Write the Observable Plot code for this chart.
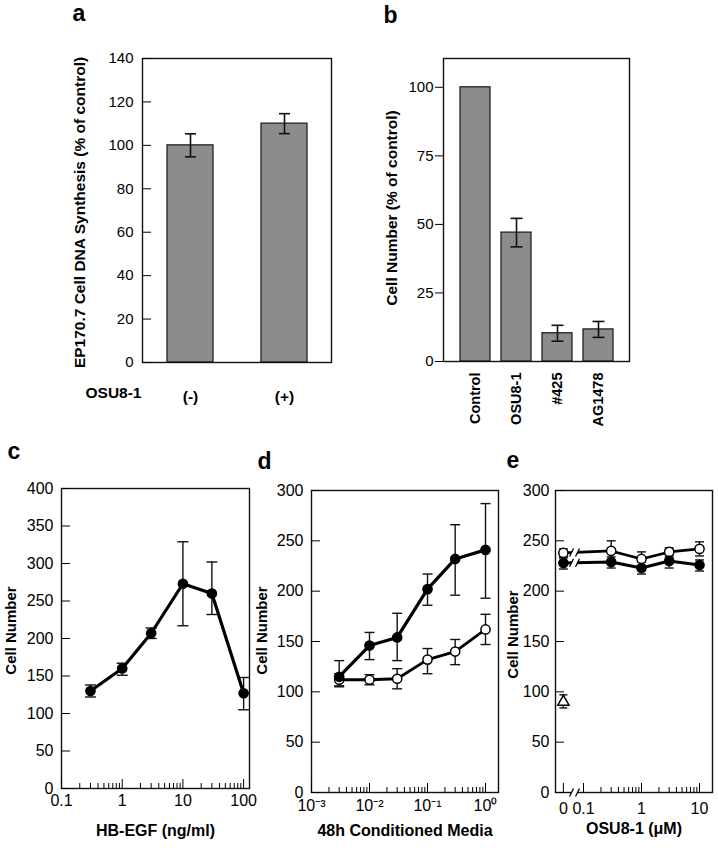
<!DOCTYPE html>
<html><head><meta charset="utf-8">
<script src="https://cdn.jsdelivr.net/npm/d3@7"></script>
<script src="https://cdn.jsdelivr.net/npm/@observablehq/plot@0.6"></script>
<style>
body{margin:0;background:#fff;}
#fig{position:relative;width:718px;height:853px;overflow:hidden;background:#fff;}
</style></head><body><div id="fig"></div>
<script>
// ---------- data ----------
const aCategories = ["(-)", "(+)"];
const aValues = [100, 110];
const aErrors = [5.3, 4.6];
const aTicks = [0, 20, 40, 60, 80, 100, 120, 140];
const aTitle = "EP170.7 Cell DNA Synthesis (% of control)";
const aXName = "OSU8-1";

const bCategories = ["Control", "OSU8-1", "#425", "AG1478"];
const bValues = [100, 47, 10.3, 11.7];
const bErrors = [0, 5.2, 2.9, 2.9];
const bTicks = [0, 25, 50, 75, 100];
const bTitle = "Cell Number (% of control)";

const cDose = [0.3, 1, 3, 10, 30, 100];
const cValues = [130, 160, 207, 273, 260, 127];
const cLow = [122, 151, 200, 217, 232, 105];
const cHigh = [138, 167, 214, 329, 302, 148];
const cTicks = [0, 50, 100, 150, 200, 250, 300, 350, 400];
const cMajor = [0.1, 1, 10, 100];
const cMajorLabels = ["0.1", "1", "10", "100"];
const cXTitle = "HB-EGF (ng/ml)";

const dDose = [0.003, 0.01, 0.03, 0.1, 0.3, 1];
const dFilled = [115, 146, 154, 202, 232, 241];
const dFilledLow = [105, 132, 131, 186, 196, 193];
const dFilledHigh = [131, 159, 178, 217, 266, 287];
const dOpen = [112, 112, 113, 132, 140, 162];
const dOpenLow = [106, 107, 103, 118, 127, 147];
const dOpenHigh = [118, 117, 123, 143, 152, 177];
const dTicks = [0, 50, 100, 150, 200, 250, 300];
const dMajor = [0.001, 0.01, 0.1, 1];
const dMajorLabels = ["10\u207B\u00B3", "10\u207B\u00B2", "10\u207B\u00B9", "10\u2070"];
const dXTitle = "48h Conditioned Media";

const eDose = [0, 0.3, 1, 3, 10];
const eOpen = [238, 240, 232, 239, 242];
const eOpenLow = [233, 231, 225, 234, 235];
const eOpenHigh = [242, 250, 239, 243, 249];
const eFilled = [228, 229, 223, 230, 226];
const eFilledLow = [222, 223, 217, 223, 220];
const eFilledHigh = [234, 234, 229, 236, 231];
const eTriangleDose = [0];
const eTriangle = [90];
const eTriangleLow = [84];
const eTriangleHigh = [97];
const eTicks = [0, 50, 100, 150, 200, 250, 300];
const eMajor = [0, 0.1, 1, 10];
const eMajorLabels = ["0", "0.1", "1", "10"];
const eXTitle = "OSU8-1 (\u03BCM)";
const yTitle = "Cell Number";

// ---------- helpers ----------
const FONT = '"Liberation Sans", Arial, Helvetica, sans-serif';
const fig = document.getElementById("fig");
function put(svg, left, top) {
  svg.style.position = "absolute";
  svg.style.left = left + "px";
  svg.style.top = top + "px";
  fig.appendChild(svg);
}
const style15 = {fontFamily: FONT, fontSize: "15px", background: "transparent", overflow: "visible", color: "black"};
const style16 = {...style15, fontSize: "16px"};
const capSymbol = {draw(ctx, size) { const s = Math.sqrt(size / Math.PI); ctx.moveTo(-s, 0); ctx.lineTo(s, 0); }};
const gapSymbol = {draw(ctx, size) { const k = Math.sqrt(size / Math.PI) / 4;
  ctx.moveTo(-5 * k, 4 * k); ctx.lineTo(-1 * k, -4 * k); ctx.lineTo(5 * k, -4 * k); ctx.lineTo(1 * k, 4 * k); ctx.closePath(); }};
const slashSymbol = {draw(ctx, size) { const k = Math.sqrt(size / Math.PI) / 4;
  ctx.moveTo(-5 * k, 4 * k); ctx.lineTo(-1 * k, -4 * k); ctx.moveTo(1 * k, 4 * k); ctx.lineTo(5 * k, -4 * k); }};
const BAR = "#8c8c8c";
function minorTicks(decades) { const out = []; for (const d of decades) for (let m = 2; m <= 9; m++) out.push(+(d * m).toPrecision(3)); return out; }
const lab = (ticks, labels) => v => labels[ticks.indexOf(v)] ?? "";
const title = (t, o) => Plot.text([t], {text: d => d, fontWeight: "bold", fontSize: 14, ...o});
const vtitle = (t, o) => title(t, {frameAnchor: "left", rotate: -90, textAnchor: "middle", lineAnchor: "middle", ...o});

// ---------- panel a ----------
const aTable = aCategories.map((c, i) => ({c, v: aValues[i], lo: aValues[i] - aErrors[i], hi: aValues[i] + aErrors[i]}));
put(Plot.plot({
  width: 360, height: 420, marginLeft: 142, marginRight: 29, marginTop: 58, marginBottom: 58,
  style: style15,
  x: {type: "band", domain: aCategories, paddingInner: 0.513, paddingOuter: 0.2565, axis: null},
  y: {domain: [0, 140], axis: null},
  marks: [
    Plot.barY(aTable, {x: "c", y: "v", fill: BAR, stroke: "#222", strokeWidth: 1.3}),
    Plot.ruleX(aTable, {x: "c", y1: "lo", y2: "hi", stroke: "#111", strokeWidth: 1.6}),
    Plot.dot(aTable, {x: "c", y: "hi", symbol: capSymbol, r: 5.5, fill: "none", stroke: "#111", strokeWidth: 1.6}),
    Plot.dot(aTable, {x: "c", y: "lo", symbol: capSymbol, r: 5.5, fill: "none", stroke: "#111", strokeWidth: 1.6}),
    Plot.frame({stroke: "#111", strokeWidth: 1.4}),
    Plot.axisY({ticks: aTicks, tickSize: 0, tickPadding: 9, label: null}),
    Plot.axisY({ticks: aTicks, tickSize: -9, tickFormat: () => "", label: null}),
    Plot.axisX({tickSize: 0, tickPadding: 28, fontWeight: "bold", fontSize: 15.5, label: null}),
    title(aXName, {frameAnchor: "bottom-left", dx: -1, dy: 35, textAnchor: "end", fontSize: 15.5}),
    vtitle(aTitle, {dx: -62, dy: 2, fontSize: 15.5}),
    title("a", {frameAnchor: "top-left", dx: -70, dy: -38, textAnchor: "start", lineAnchor: "bottom", fontSize: 23})
  ]
}), 0, 0);

// ---------- panel b ----------
const bTable = bCategories.map((c, i) => ({c, v: bValues[i], e: bErrors[i], lo: bValues[i] - bErrors[i], hi: bValues[i] + bErrors[i]}));
const bErr = bTable.filter(d => d.e > 0);
put(Plot.plot({
  width: 358, height: 420, marginLeft: 83, marginRight: 89, marginTop: 58, marginBottom: 59,
  style: style15,
  x: {type: "band", domain: bCategories, paddingInner: 0.277, paddingOuter: 0.38, axis: null},
  y: {domain: [0, 110.5], axis: null},
  marks: [
    Plot.barY(bTable, {x: "c", y: "v", fill: BAR, stroke: "#222", strokeWidth: 1.3}),
    Plot.ruleX(bErr, {x: "c", y1: "lo", y2: "hi", stroke: "#111", strokeWidth: 1.6}),
    Plot.dot(bErr, {x: "c", y: "hi", symbol: capSymbol, r: 6, fill: "none", stroke: "#111", strokeWidth: 1.6}),
    Plot.dot(bErr, {x: "c", y: "lo", symbol: capSymbol, r: 6, fill: "none", stroke: "#111", strokeWidth: 1.6}),
    Plot.frame({stroke: "#111", strokeWidth: 1.4}),
    Plot.axisY({ticks: bTicks, tickSize: 8, tickPadding: 2, label: null}),
    Plot.axisX({tickSize: 0, tickPadding: 11, tickRotate: -90, fontWeight: "bold", fontSize: 14.5, label: null}),
    vtitle(bTitle, {dx: -51, dy: -2, fontSize: 15.5}),
    title("b", {frameAnchor: "top-left", dx: -60, dy: -36, textAnchor: "start", lineAnchor: "bottom", fontSize: 23})
  ]
}), 360, 0);

// ---------- panel c ----------
const cTable = cDose.map((x, i) => ({x, v: cValues[i], lo: cLow[i], hi: cHigh[i]}));
put(Plot.plot({
  width: 250, height: 433, marginLeft: 61, marginRight: 1, marginTop: 68, marginBottom: 65,
  style: style16,
  x: {type: "log", domain: [0.1, 125], axis: null},
  y: {domain: [0, 400], axis: null},
  marks: [
    Plot.ruleX(cTable, {x: "x", y1: "lo", y2: "hi", stroke: "#111", strokeWidth: 1.4}),
    Plot.dot(cTable, {x: "x", y: "hi", symbol: capSymbol, r: 5.5, fill: "none", stroke: "#111", strokeWidth: 1.4}),
    Plot.dot(cTable, {x: "x", y: "lo", symbol: capSymbol, r: 5.5, fill: "none", stroke: "#111", strokeWidth: 1.4}),
    Plot.line(cTable, {x: "x", y: "v", stroke: "#000", strokeWidth: 3.2}),
    Plot.dot(cTable, {x: "x", y: "v", r: 4.6, fill: "#000", stroke: "#000"}),
    Plot.frame({stroke: "#111", strokeWidth: 1.4}),
    Plot.axisY({ticks: cTicks, tickSize: 0, tickPadding: 8, label: null}),
    Plot.axisY({ticks: cTicks, tickSize: -9, tickFormat: () => "", label: null}),
    Plot.axisX({ticks: cMajor, tickSize: 0, tickPadding: 6, tickFormat: lab(cMajor, cMajorLabels), label: null}),
    Plot.axisX({ticks: cMajor, tickSize: -9, tickFormat: () => "", label: null}),
    Plot.axisX({ticks: minorTicks([0.1, 1, 10]), tickSize: -5, tickFormat: () => "", label: null}),
    vtitle(yTitle, {dx: -50, dy: -8, fontSize: 15}),
    title(cXTitle, {frameAnchor: "bottom", dy: 47, fontSize: 16}),
    title("c", {frameAnchor: "top-left", dx: -54, dy: -30, textAnchor: "start", lineAnchor: "bottom", fontSize: 23})
  ]
}), 0, 420);

// ---------- panel d ----------
const dF = dDose.map((x, i) => ({x, v: dFilled[i], lo: dFilledLow[i], hi: dFilledHigh[i]}));
const dO = dDose.map((x, i) => ({x, v: dOpen[i], lo: dOpenLow[i], hi: dOpenHigh[i]}));
const errMarks = (t, r, w) => [
  Plot.ruleX(t, {x: "x", y1: "lo", y2: "hi", stroke: "#111", strokeWidth: w}),
  Plot.dot(t, {x: "x", y: "hi", symbol: capSymbol, r, fill: "none", stroke: "#111", strokeWidth: w}),
  Plot.dot(t, {x: "x", y: "lo", symbol: capSymbol, r, fill: "none", stroke: "#111", strokeWidth: w})
];
put(Plot.plot({
  width: 250, height: 433, marginLeft: 61, marginRight: 2, marginTop: 70, marginBottom: 61,
  style: style16,
  x: {type: "log", domain: [0.001, 1.675], axis: null},
  y: {domain: [0, 300], axis: null},
  marks: [
    ...errMarks(dO, 5, 1.4),
    ...errMarks(dF, 5, 1.4),
    Plot.line(dO, {x: "x", y: "v", stroke: "#000", strokeWidth: 2.8}),
    Plot.line(dF, {x: "x", y: "v", stroke: "#000", strokeWidth: 3.2}),
    Plot.dot(dO, {x: "x", y: "v", r: 4.6, fill: "#fff", stroke: "#000", strokeWidth: 1.5}),
    Plot.dot(dF, {x: "x", y: "v", r: 4.6, fill: "#000", stroke: "#000"}),
    Plot.frame({stroke: "#111", strokeWidth: 1.4}),
    Plot.axisY({ticks: dTicks, tickSize: 0, tickPadding: 8, label: null}),
    Plot.axisY({ticks: dTicks, tickSize: -9, tickFormat: () => "", label: null}),
    Plot.axisX({ticks: dMajor, tickSize: 0, tickPadding: 7, tickFormat: lab(dMajor, dMajorLabels), label: null}),
    Plot.axisX({ticks: dMajor, tickSize: -9, tickFormat: () => "", label: null}),
    Plot.axisX({ticks: minorTicks([0.001, 0.01, 0.1]), tickSize: -5, tickFormat: () => "", label: null}),
    vtitle(yTitle, {dx: -49, dy: -11, fontSize: 15}),
    title(dXTitle, {frameAnchor: "bottom", dy: 43, fontSize: 16}),
    title("d", {frameAnchor: "top-left", dx: -54, dy: -22, textAnchor: "start", lineAnchor: "bottom", fontSize: 23})
  ]
}), 250, 420);

// ---------- panel e ----------
const eZeroPos = 0.045;   // plotted position of the "0" dose, left of the axis break
const eBreakPos = 0.07;   // position of the axis break
const ex = d => (d === 0 ? eZeroPos : d);
const eO = eDose.map((x, i) => ({x: ex(x), v: eOpen[i], lo: eOpenLow[i], hi: eOpenHigh[i]}));
const eF = eDose.map((x, i) => ({x: ex(x), v: eFilled[i], lo: eFilledLow[i], hi: eFilledHigh[i]}));
const eT = eTriangleDose.map((x, i) => ({x: ex(x), v: eTriangle[i], lo: eTriangleLow[i], hi: eTriangleHigh[i]}));
const tBreak = (Math.log(eBreakPos) - Math.log(eO[0].x)) / (Math.log(eO[1].x) - Math.log(eO[0].x));
const eBreaks = [eO, eF].map(s => ({x: eBreakPos, v: s[0].v + (s[1].v - s[0].v) * tBreak}));
const eAxisBreak = [{x: eBreakPos, v: 0}];
const eMinor = minorTicks([0.1, 1]);
const eTickPos = eMajor.map(ex);
put(Plot.plot({
  width: 218, height: 433, marginLeft: 55, marginRight: 6, marginTop: 70, marginBottom: 61,
  style: style16,
  x: {type: "log", domain: [0.0329, 16.75], axis: null},
  y: {domain: [0, 300], axis: null},
  marks: [
    ...errMarks(eO, 4.5, 1.4),
    ...errMarks(eF, 4.5, 1.4),
    ...errMarks(eT, 4, 1.4),
    Plot.line(eO, {x: "x", y: "v", stroke: "#000", strokeWidth: 2.6}),
    Plot.line(eF, {x: "x", y: "v", stroke: "#000", strokeWidth: 3}),
    Plot.dot(eBreaks, {x: "x", y: "v", symbol: gapSymbol, r: 4, fill: "#fff", stroke: "none"}),
    Plot.dot(eBreaks, {x: "x", y: "v", symbol: slashSymbol, r: 4, fill: "none", stroke: "#000", strokeWidth: 1.3}),
    Plot.dot(eO, {x: "x", y: "v", r: 4.6, fill: "#fff", stroke: "#000", strokeWidth: 1.5}),
    Plot.dot(eF, {x: "x", y: "v", r: 4.6, fill: "#000", stroke: "#000"}),
    Plot.dot(eT, {x: "x", y: "v", r: 4.2, symbol: "triangle", fill: "#fff", stroke: "#000", strokeWidth: 1.5}),
    Plot.frame({stroke: "#111", strokeWidth: 1.4}),
    Plot.dot(eAxisBreak, {x: "x", y: "v", symbol: gapSymbol, r: 4, fill: "#fff", stroke: "none"}),
    Plot.dot(eAxisBreak, {x: "x", y: "v", symbol: slashSymbol, r: 4, fill: "none", stroke: "#000", strokeWidth: 1.3}),
    Plot.axisY({ticks: eTicks, tickSize: 0, tickPadding: 6, label: null}),
    Plot.axisY({ticks: eTicks, tickSize: -9, tickFormat: () => "", label: null}),
    Plot.text(eTickPos, {x: d => d, text: lab(eTickPos, eMajorLabels), frameAnchor: "bottom", lineAnchor: "top", dy: 10}),
    Plot.axisX({ticks: eTickPos, tickSize: -9, tickFormat: () => "", label: null}),
    Plot.axisX({ticks: eMinor, tickSize: -5, tickFormat: () => "", label: null}),
    vtitle(yTitle, {dx: -42, dy: -7, fontSize: 15}),
    title(eXTitle, {frameAnchor: "bottom", dy: 41, fontSize: 16}),
    title("e", {frameAnchor: "top-left", dx: -49, dy: -23, textAnchor: "start", lineAnchor: "bottom", fontSize: 23})
  ]
}), 500, 420);
</script></body></html>
